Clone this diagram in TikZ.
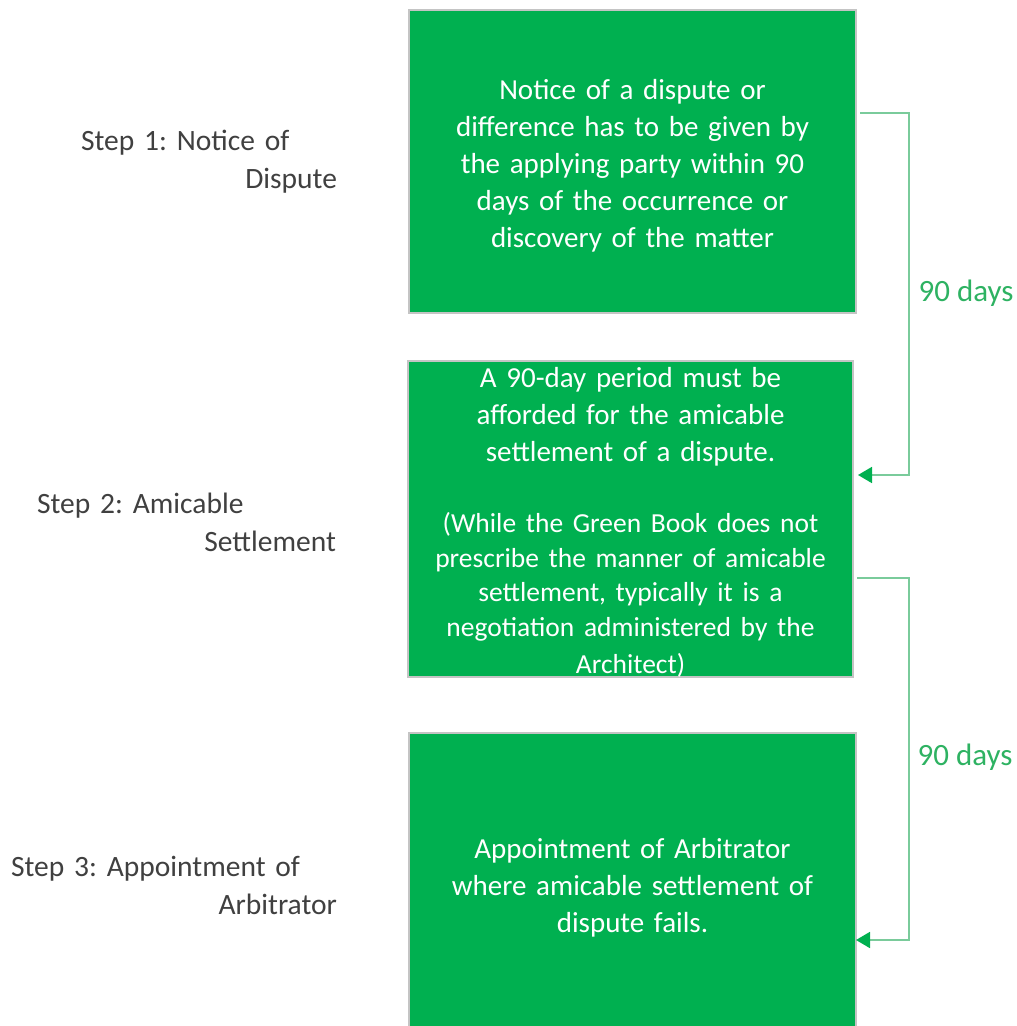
\documentclass[tikz,border=0pt]{standalone}
\usepackage{fontspec}
\setmainfont{Carlito}
\usetikzlibrary{arrows.meta}
\definecolor{boxgreen}{HTML}{00B050}
\definecolor{labgreen}{HTML}{2EB262}
\definecolor{linegreen}{HTML}{7ACB9B}
\definecolor{steptext}{HTML}{404040}
\definecolor{boxborder}{HTML}{C4C4C4}
\tikzset{
  box/.style={draw=boxborder, line width=1.3pt, fill=boxgreen, text=white, inner sep=0pt,
    align=center, text width=440pt, font=\frenchspacing\fontsize{29}{37}\selectfont},
  steplabel/.style={text=steptext, inner sep=0pt, align=left,
    font=\frenchspacing\fontsize{29.5}{38}\selectfont},
  daylabel/.style={text=labgreen, inner sep=0pt, font=\fontsize{31}{36}\selectfont},
  conn/.style={draw=linegreen, line width=1.8pt,
    -{Triangle[length=14pt,width=16pt,color=boxgreen]}},
}
\begin{document}
\begin{tikzpicture}[x=1pt,y=-1pt]
\useasboundingbox (0,0) rectangle (1017,1026);
% boxes
\node[box, minimum width=447pt, minimum height=303pt] (b1) at (632.5,161.5)
  {\rule{0pt}{28pt}Notice of a dispute or\\ difference has to be given by\\ the applying party within 90\\ days of the occurrence or\\ discovery of the matter};
\node[box, minimum width=445pt, minimum height=316pt] (b2) at (630.5,519)
  {\rule{0pt}{26pt}A 90-day period must be\\ afforded for the amicable\\ settlement of a dispute.\par\vspace{37pt}
   \fontsize{27.5}{34.5}\selectfont (While the Green Book does not\\ prescribe the manner of amicable\\ settlement, typically it is a\\ negotiation administered by the\\ Architect)};
\node[box, minimum width=447pt, minimum height=302pt] (b3) at (632.5,884)
  {\rule{0pt}{28pt}Appointment of Arbitrator\\ where amicable settlement of\\ dispute fails.};
% step labels
\node[steplabel, text width=256pt] (s1) at (209,162)
  {Step 1: Notice of\\ \hspace*{\fill}Dispute};
\node[steplabel, text width=299pt] (s2) at (186.5,522)
  {Step 2: Amicable\\ \hspace*{\fill}Settlement};
\node[steplabel, text width=326pt] (s3) at (174,885)
  {Step 3: Appointment of\\ \hspace*{\fill}Arbitrator};
% connectors
\coordinate (c1s) at (860,113);
\coordinate (c1e) at (858,475);
\coordinate (c2s) at (857,578);
\coordinate (c2e) at (856,940);
\draw[conn] (c1s) -- ++(49,0) |- (c1e);
\draw[conn] (c2s) -- ++(52,0) |- (c2e);
\node[daylabel] (d1) at (966,293) {90 days};
\node[daylabel] (d2) at (965,757) {90 days};
\end{tikzpicture}
\end{document}
